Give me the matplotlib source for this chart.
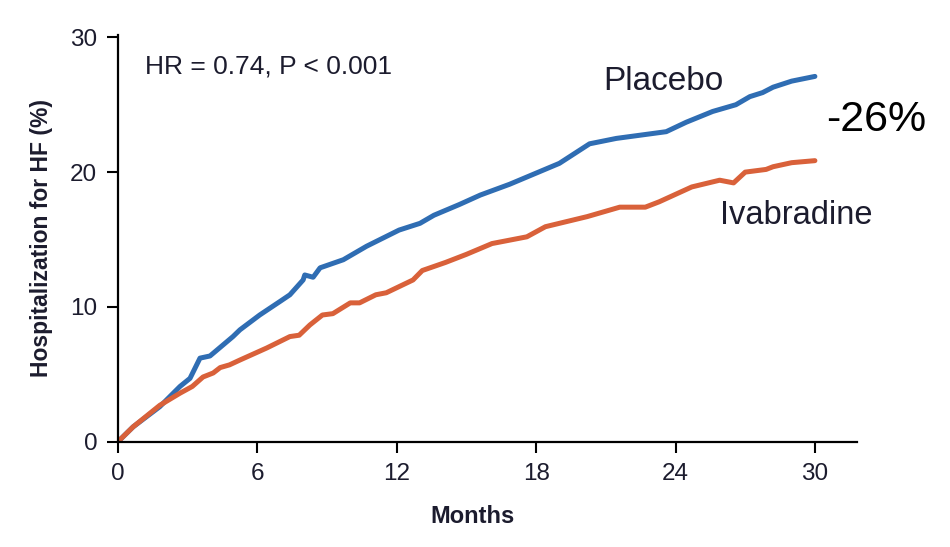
import numpy as np
import matplotlib
matplotlib.use("Agg")
import matplotlib.pyplot as plt

# Datos (meses, % hospitalizacion por IC)
meses_placebo = [0, 0.65, 1.8, 2.67, 3.1, 3.53, 3.96, 4.95, 5.25, 6.1, 6.97, 7.4, 7.97,
                 8.04, 8.4, 8.7, 9.7, 10.7, 12.1, 13.0, 13.6, 14.7, 15.6, 16.86, 19.0,
                 20.3, 21.45, 23.6, 24.46, 25.6, 26.6, 27.2, 27.75, 28.2, 29.0, 30.0]
hf_placebo = [0, 1.1, 2.6, 4.1, 4.7, 6.2, 6.36, 7.8, 8.3, 9.4, 10.4, 10.9, 12.0,
              12.37, 12.2, 12.9, 13.5, 14.5, 15.7, 16.2, 16.8, 17.6, 18.3, 19.1, 20.65,
              22.1, 22.5, 23.0, 23.7, 24.5, 25.0, 25.6, 25.9, 26.3, 26.75, 27.1]

meses_ivab = [0, 0.65, 1.8, 2.67, 3.2, 3.66, 4.1, 4.4, 4.8, 5.25, 6.4, 7.4, 7.8, 8.26,
              8.8, 9.25, 10.0, 10.4, 11.1, 11.55, 12.7, 13.1, 14.1, 15.0, 16.1, 17.6,
              18.4, 20.2, 21.6, 22.7, 23.3, 24.7, 25.9, 26.5, 27.0, 27.9, 28.2, 29.0, 30.0]
hf_ivab = [0, 1.1, 2.7, 3.6, 4.1, 4.8, 5.1, 5.5, 5.7, 6.06, 6.95, 7.8, 7.9, 8.66,
           9.4, 9.5, 10.3, 10.3, 10.9, 11.05, 12.0, 12.7, 13.3, 13.9, 14.7, 15.2,
           15.95, 16.7, 17.4, 17.4, 17.8, 18.9, 19.4, 19.2, 20.0, 20.2, 20.4, 20.7, 20.85]

xticks = [0, 6, 12, 18, 24, 30]
yticks = [0, 10, 20, 30]

azul = '#2f6db3'
naranja = '#d9613a'
texto = '#1c1c2e'
fuente = ['Liberation Sans', 'DejaVu Sans']

fig = plt.figure(figsize=(9.5, 5.47), dpi=100)
ax = fig.add_axes([0.1242, 0.1925, 0.7776, 0.7442])

ax.plot(meses_placebo, hf_placebo, color=azul, lw=3.6, solid_capstyle='round')
ax.plot(meses_ivab, hf_ivab, color=naranja, lw=3.6, solid_capstyle='round')

ax.set_xlim(0, 31.8)
ax.set_ylim(0, 30.2)
ax.set_xticks(xticks)
ax.set_yticks(yticks)
for lab in ax.get_xticklabels() + ax.get_yticklabels():
    lab.set_family(fuente)
    lab.set_fontsize(17.5)
    lab.set_color(texto)
ax.tick_params(direction='out', length=8, width=1.5, pad=7)
for s in ['top', 'right']:
    ax.spines[s].set_visible(False)
for s in ['left', 'bottom']:
    ax.spines[s].set_linewidth(1.6)

ax.set_xlabel('Months', family=fuente, fontsize=17, fontweight='bold', color=texto)
ax.xaxis.set_label_coords(0.48, -0.155)
ax.set_ylabel('Hospitalization for HF (%)', family=fuente, fontsize=16.5, fontweight='bold',
              color=texto, labelpad=12)

ax.text(1.16, 27.8, 'HR = 0.74, P < 0.001', family=fuente, fontsize=19, color=texto, va='center')
ax.text(20.9, 26.75, 'Placebo', family=fuente, fontsize=24, color=texto, va='center')
ax.text(25.9, 16.8, 'Ivabradine', family=fuente, fontsize=23.5, color=texto, va='center')
ax.text(30.5, 23.85, '-26%', family=fuente, fontsize=31, color='black', va='center')

fig.savefig('out.png', dpi=100)
